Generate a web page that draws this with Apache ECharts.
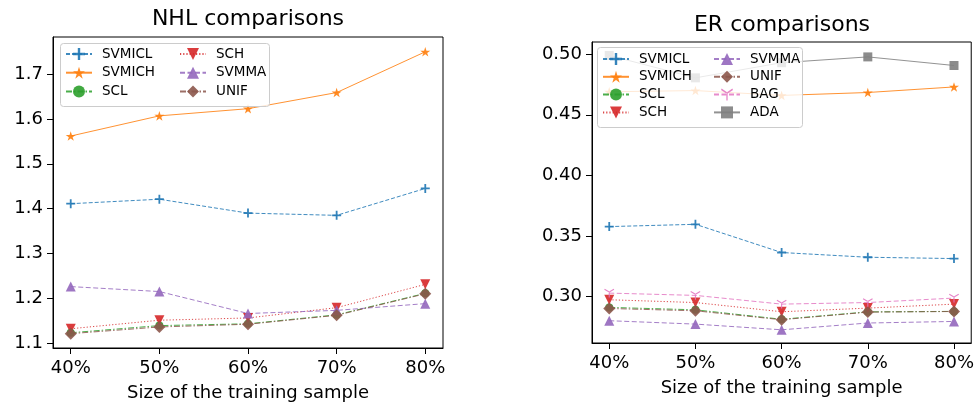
<!DOCTYPE html>
<html>
<head>
<meta charset="utf-8">
<script src="https://cdn.jsdelivr.net/npm/echarts@6/dist/echarts.min.js"></script>
<style>
html,body{margin:0;padding:0;background:#fff;}
#chart{width:977px;height:407px;}
</style>
</head>
<body>
<div id="chart"></div>
<script>
// ---- data ----
const categories = ['40%', '50%', '60%', '70%', '80%'];

const nhlSVMICL = [1.411, 1.421, 1.390, 1.385, 1.445];
const nhlSVMICH = [1.562, 1.607, 1.623, 1.659, 1.750];
const nhlSCL    = [1.123, 1.139, 1.143, 1.163, 1.211];
const nhlSCH    = [1.132, 1.151, 1.156, 1.179, 1.231];
const nhlSVMMA  = [1.226, 1.215, 1.166, 1.173, 1.188];
const nhlUNIF   = [1.121, 1.136, 1.142, 1.162, 1.210];

const erSVMICL = [0.3577, 0.3596, 0.3363, 0.3324, 0.3313];
const erSVMICH = [0.4690, 0.4700, 0.4660, 0.4684, 0.4730];
const erSCL    = [0.2910, 0.2890, 0.2812, 0.2873, 0.2877];
const erSCH    = [0.2973, 0.2950, 0.2874, 0.2904, 0.2937];
const erSVMMA  = [0.2800, 0.2772, 0.2725, 0.2781, 0.2794];
const erUNIF   = [0.2901, 0.2882, 0.2808, 0.2871, 0.2876];
const erBAG    = [0.3028, 0.3009, 0.2937, 0.2950, 0.2987];
const erADA    = [0.4990, 0.4805, 0.4930, 0.4978, 0.4907];

const nhlTicks = [1.1, 1.2, 1.3, 1.4, 1.5, 1.6, 1.7];
const erTicks  = [0.30, 0.35, 0.40, 0.45, 0.50];
const xTicks   = [0, 1, 2, 3, 4];

// ---- styles ----
const FONT = 'DejaVu Sans';
const C = {
  SVMICL: '#1f77b4', SVMICH: '#ff7f0e', SCL: '#2ca02c', SCH: '#d62728',
  SVMMA: '#9467bd', UNIF: '#8c564b', BAG: '#e377c2', ADA: '#7f7f7f'
};
const PLUS = 'path://M4,0H6V4H10V6H6V10H4V6H0V4H4Z';
const STAR = 'path://M0,-100L22.45,-30.9L95.1,-30.9L36.3,11.8L58.8,80.9L0,38.2L-58.8,80.9L-36.3,11.8L-95.1,-30.9L-22.45,-30.9Z';
const TRI_DOWN = 'path://M5,-8.66L-81.6,-58.66L-91.6,-41.34L-5,8.66ZM-5,-8.66L81.6,-58.66L91.6,-41.34L5,8.66ZM-10,0L10,0L10,100L-10,100Z';
const STYLE = {
  SVMICL: { symbol: PLUS, size: 9, type: [4, 2] },
  SVMICH: { symbol: STAR, size: 10, type: 'solid' },
  SCL:    { symbol: 'circle', size: 8, type: [6, 2, 1.5, 2] },
  SCH:    { symbol: 'triangle', size: 10, rotate: 180, type: [1.2, 2] },
  SVMMA:  { symbol: 'triangle', size: 10, type: [5, 2.5] },
  UNIF:   { symbol: 'diamond', size: 12, type: [6, 2, 1.5, 2] },
  BAG:    { symbol: TRI_DOWN, size: 10, type: [5, 2.5] },
  ADA:    { symbol: 'rect', size: 9, type: 'solid' }
};

function mkSeries(name, values, idx) {
  const s = STYLE[name];
  return {
    name: name,
    type: 'line',
    xAxisIndex: idx, yAxisIndex: idx,
    data: values.map((v, i) => [i, v]),
    symbol: s.symbol,
    symbolSize: s.size,
    symbolRotate: s.rotate || 0,
    symbolKeepAspect: true,
    showAllSymbol: true,
    color: C[name],
    lineStyle: { color: C[name], width: 1, type: s.type, opacity: 0.85 },
    itemStyle: { color: C[name], opacity: 0.9, borderWidth: 0 },
    emphasis: { disabled: true },
    animation: false
  };
}

function xAxisOpt(idx) {
  return {
    type: 'value', gridIndex: idx, min: -0.2, max: 4.2,
    name: 'Size of the training sample', nameLocation: 'middle', nameGap: 36,
    nameTextStyle: { fontFamily: FONT, fontSize: 18, color: '#000' },
    axisLine: { show: true, onZero: false, lineStyle: { color: '#000', width: 1 } },
    axisTick: { show: true, inside: false, length: 6, customValues: xTicks, lineStyle: { color: '#000', width: 1 } },
    axisLabel: { show: true, margin: 11, customValues: xTicks, fontFamily: FONT, fontSize: 18, color: '#000',
      formatter: v => categories[Math.round(v)] },
    splitLine: { show: false }
  };
}
function yAxisOpt(idx, min, max, ticks, dec) {
  return {
    type: 'value', gridIndex: idx, min: min, max: max,
    axisLine: { show: true, onZero: false, lineStyle: { color: '#000', width: 1 } },
    axisTick: { show: true, inside: false, length: 6, customValues: ticks, lineStyle: { color: '#000', width: 1 } },
    axisLabel: { show: true, margin: 10, customValues: ticks, fontFamily: FONT, fontSize: 18, color: '#000',
      formatter: v => v.toFixed(dec) },
    splitLine: { show: false }
  };
}
function legendOpt(names, left, top, gap) {
  return {
    show: true, orient: 'vertical', left: left, top: top, padding: 0,
    itemWidth: 26, itemHeight: 15, itemGap: gap, z: 10,
    selectedMode: false,
    data: names,
    textStyle: { fontFamily: FONT, fontSize: 13.5, lineHeight: 14, color: '#000', padding: [0, 0, 0, 5] }
  };
}

const chart = echarts.init(document.getElementById('chart'), null, { renderer: 'canvas' });
const option = {
  backgroundColor: '#fff',
  animation: false,
  grid: [
    { left: 53, top: 37, width: 390, height: 311, show: true, borderColor: '#000', borderWidth: 1, backgroundColor: 'transparent', containLabel: false },
    { left: 592, top: 42, width: 380, height: 301, show: true, borderColor: '#000', borderWidth: 1, backgroundColor: 'transparent', containLabel: false }
  ],
  xAxis: [xAxisOpt(0), xAxisOpt(1)],
  yAxis: [yAxisOpt(0, 1.089, 1.783, nhlTicks, 1), yAxisOpt(1, 0.2616, 0.5101, erTicks, 2)],
  legend: [
    legendOpt(['SVMICL', 'SVMICH', 'SCL'], 65, 47, 4.7),
    legendOpt(['SCH', 'SVMMA', 'UNIF'], 179, 47, 4.7),
    legendOpt(['SVMICL', 'SVMICH', 'SCL', 'SCH'], 602, 52, 3.8),
    legendOpt(['SVMMA', 'UNIF', 'BAG', 'ADA'], 713, 52, 3.8)
  ],
  graphic: [
    { type: 'text', x: 248, y: 19, z: 10, style: { text: 'NHL comparisons', fontFamily: FONT, fontSize: 22, fill: '#000', textAlign: 'center', textVerticalAlign: 'middle' } },
    { type: 'text', x: 782, y: 25, z: 10, style: { text: 'ER comparisons', fontFamily: FONT, fontSize: 22, fill: '#000', textAlign: 'center', textVerticalAlign: 'middle' } },
    { type: 'rect', z: 5, shape: { x: 60.5, y: 43.5, width: 209, height: 63, r: 3 }, style: { fill: 'rgba(255,255,255,0.8)', stroke: '#cccccc', lineWidth: 1 } },
    { type: 'rect', z: 5, shape: { x: 597.5, y: 47.5, width: 205, height: 80, r: 3 }, style: { fill: 'rgba(255,255,255,0.8)', stroke: '#cccccc', lineWidth: 1 } }
  ],
  series: [
    mkSeries('SVMICL', nhlSVMICL, 0),
    mkSeries('SVMICH', nhlSVMICH, 0),
    mkSeries('SCL', nhlSCL, 0),
    mkSeries('SCH', nhlSCH, 0),
    mkSeries('SVMMA', nhlSVMMA, 0),
    mkSeries('UNIF', nhlUNIF, 0),
    mkSeries('SVMICL', erSVMICL, 1),
    mkSeries('SVMICH', erSVMICH, 1),
    mkSeries('SCL', erSCL, 1),
    mkSeries('SCH', erSCH, 1),
    mkSeries('SVMMA', erSVMMA, 1),
    mkSeries('UNIF', erUNIF, 1),
    mkSeries('BAG', erBAG, 1),
    mkSeries('ADA', erADA, 1)
  ]
};
chart.setOption(option);
</script>
</body>
</html>
